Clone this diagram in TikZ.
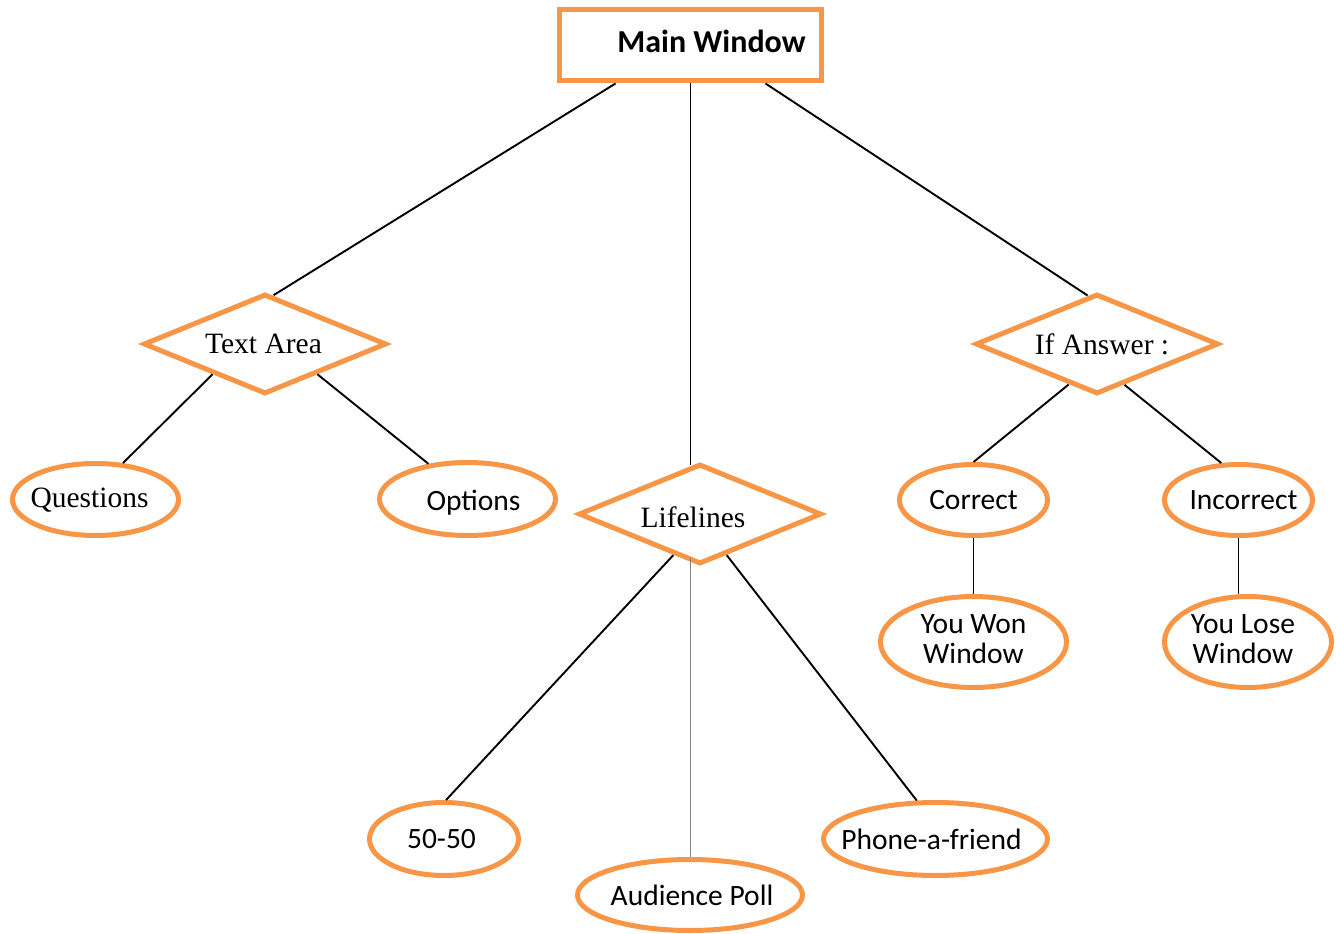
\documentclass[tikz,border=0pt]{standalone}
\usepackage{fontspec}
\setmainfont{Liberation Serif}
\newfontfamily\carl{Carlito}
\usetikzlibrary{shapes.geometric,calc}
\definecolor{orng}{HTML}{F79646}
\newcommand\tx[2][0pt]{\makebox[0pt]{\hspace*{#1}\hspace*{#1}#2}}
\newcommand\shiftv[2]{\raisebox{#1}[\height][\depth]{#2}}
\begin{document}
\begin{tikzpicture}[x=1pt,y=-1pt,
  box/.style={draw=orng,line width=5pt,rectangle,inner sep=0pt,minimum width=262pt,minimum height=71pt,font=\carl\bfseries\fontsize{32}{34}\selectfont},
  dia/.style={draw=orng,line width=5pt,diamond,aspect=2.4,inner sep=0pt,minimum width=243pt,minimum height=100pt,font=\fontsize{29.5}{31}\selectfont},
  ell/.style={draw=orng,line width=5pt,ellipse,inner sep=0pt,font=\carl\fontsize{29.5}{30}\selectfont},
  sell/.style={ell,font=\fontsize{29.5}{30}\selectfont},
  conn/.style={line width=1.9pt,black},
  thinconn/.style={line width=1pt,gray}]
\useasboundingbox (0,0) rectangle (1336,934);
\node[box] (main) at (690.5,45.5) {\tx[21pt]{\shiftv{4pt}{Main Window}}};
\node[dia] (ta) at (265,344) {\tx[-1.5pt]{Text Area}};
\node[dia] (ll) at (700,514) {\tx[-7pt]{\shiftv{-3pt}{Lifelines}}};
\node[dia] (ia) at (1097,344) {\tx[5pt]{If Answer :}};
\node[sell,minimum width=166pt,minimum height=72pt] (q) at (95.5,499.5) {\tx[-6pt]{\shiftv{-1pt}{Questions}}};
\node[ell,minimum width=176pt,minimum height=73pt] (o) at (467.5,499) {\tx[6pt]{\shiftv{-4pt}{Options}}};
\node[ell,minimum width=148pt,minimum height=71pt] (c) at (973.5,500) {\tx{Correct}};
\node[ell,minimum width=148pt,minimum height=71pt] (ic) at (1238.5,500) {\tx[5pt]{Incorrect}};
\node[ell,minimum width=186pt,minimum height=91pt] (yw) at (973.5,642) {\tx{\begin{tabular}{@{}c@{}}You Won\\Window\end{tabular}}};
\node[ell,minimum width=167pt,minimum height=91pt] (yl) at (1248,642) {\tx[-5pt]{\begin{tabular}{@{}c@{}}You Lose\\Window\end{tabular}}};
\node[ell,minimum width=149pt,minimum height=73pt] (f) at (444,839) {\tx[-2.5pt]{50-50}};
\node[ell,minimum width=225pt,minimum height=71pt] (a) at (690,895) {\tx[2pt]{Audience Poll}};
\node[ell,minimum width=224pt,minimum height=73pt] (p) at (935.5,839) {\tx[-4pt]{Phone-a-friend}};
\draw[conn] ($(main.south)+(-75,0)$) -- (ta.80);
\draw[conn] (main.south) -- (main.south |- ll.101);
\draw[conn] ($(main.south)+(75,0)$) -- (ia.101);
\draw[conn] (ta.210) -- (q.53);
\draw[conn] (ta.-30) -- (o.138);
\draw[conn] (ll.-123) -- (f.87);
\draw[thinconn] ($(a.north |- ll.south)+(0,-9)$) -- (a.north);
\draw[conn] (ll.-57) -- (p.116);
\draw[conn] (ia.-125) -- (c.north);
\draw[conn] (ia.-56) -- (ic.115);
\draw[conn] (c.south) -- (yw.north);
\draw[conn] (ic.south) -- (ic.south |- yl.north);
\end{tikzpicture}
\end{document}
